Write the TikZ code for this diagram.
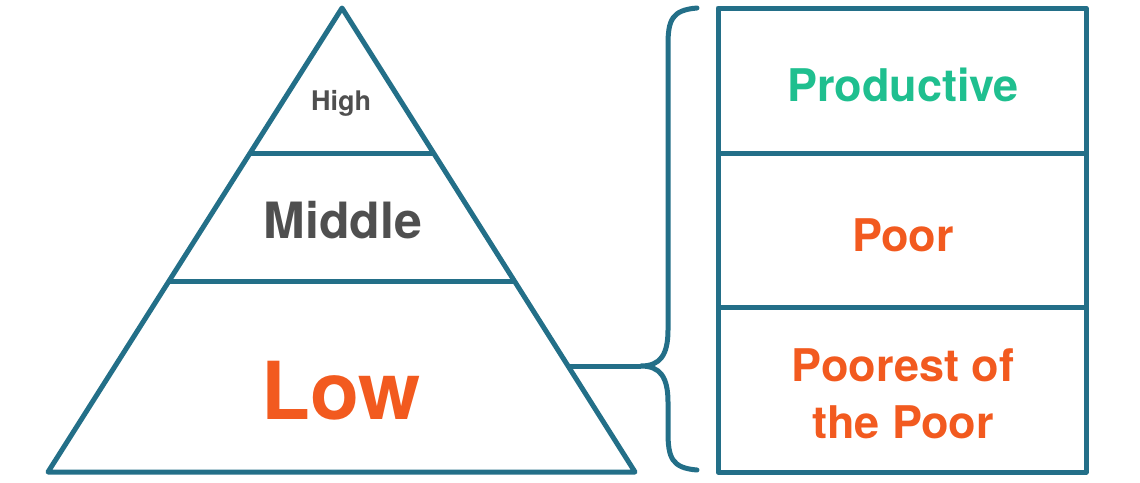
\documentclass[tikz,border=0pt]{standalone}
\usepackage{fontspec}
\setmainfont{TeX Gyre Heros}
\definecolor{edge}{HTML}{236F88}
\definecolor{grn}{HTML}{1FBF8F}
\definecolor{org}{HTML}{F25A1F}
\definecolor{gry}{HTML}{4F4F4F}
\tikzset{frame/.style={draw=edge, line width=5pt, line join=round},
	lbl/.style={font=\bfseries, align=center, inner sep=0pt}}
\begin{document}
\begin{tikzpicture}[x=1pt, y=-1pt]
	
	\useasboundingbox (0,0) rectangle (1140,482);
	
	% Coordinates
	\coordinate (apex) at (342,8);
	\coordinate (bl) at (48,472);
	\coordinate (br) at (635,472);
	\coordinate (tip) at (568,366);
	\coordinate (bracetip) at (641,366);
	
	% Pyramid
	\draw[frame] (apex) -- (br) -- (bl) --cycle;
	\draw[frame] (250,153) -- (433,153);
	\draw[frame] (170,281) -- (514,281);
	
	% Boxes
	\draw[frame] (718,8) rectangle (1086,472);
	\draw[frame] (718,153) -- (1086,153);
	\draw[frame] (718,307) -- (1086,307);
	
	% Brace
	\draw[frame, line cap=round] (697,8) .. controls (672,10) and (668,20) .. (668,45)
		-- (668,330) .. controls (668,355) and (660,366) .. (bracetip)
		.. controls (660,366) and (668,377) .. (668,402)
		-- (668,432) .. controls (668,458) and (672,468) .. (697,470);
	\draw[frame] (tip) -- (bracetip);
	
	% Labels
	\node[lbl, text=gry, font=\fontsize{27}{30}\selectfont\bfseries] (high) at (341,103) {High};
	\node[lbl, text=gry, font=\fontsize{50}{56}\selectfont\bfseries] (middle) at (343,220) {Middle};
	\node[lbl, text=org, font=\fontsize{80}{86}\selectfont\bfseries] (low) at (341,391) {Low};
	\node[lbl, text=grn, font=\fontsize{45}{50}\selectfont\bfseries] (productive) at (903,85) {Productive};
	\node[lbl, text=org, font=\fontsize{45}{50}\selectfont\bfseries] (poor) at (903,235) {Poor};
	\node[lbl, text=org, font=\fontsize{45}{57}\selectfont\bfseries] (poorest) at (903,394) {Poorest of\\the Poor};
	
\end{tikzpicture}
\end{document}
